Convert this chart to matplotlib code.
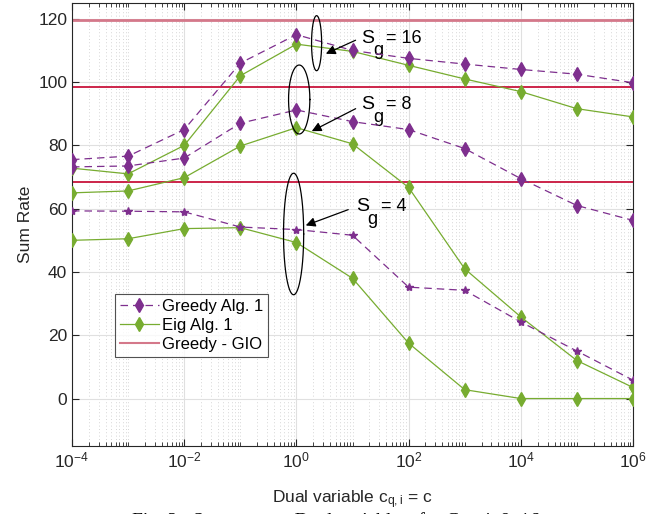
import matplotlib
matplotlib.use("Agg")
import matplotlib.pyplot as plt
import numpy as np
from matplotlib.lines import Line2D
from matplotlib.ticker import LogLocator, FixedLocator, NullFormatter

plt.rcParams["font.family"] = ["Liberation Sans", "DejaVu Sans"]

PURPLE = "#7E2F8E"
GREEN = "#77AC30"
RED = "#C8143C"

c_vals = [1e-4, 1e-3, 1e-2, 1e-1, 1e0, 1e1, 1e2, 1e3, 1e4, 1e5, 1e6]

greedy_s16 = [75.5, 76.6, 85.0, 106.0, 115.0, 110.0, 107.5, 105.7, 104.0, 102.5, 99.8]
eig_s16 = [72.8, 71.0, 80.0, 102.0, 112.0, 109.7, 105.3, 101.0, 97.0, 91.6, 89.0]
greedy_s8 = [73.2, 73.5, 76.0, 87.0, 91.2, 87.5, 85.0, 79.0, 69.5, 61.0, 56.3]
eig_s8 = [65.0, 65.6, 69.8, 79.8, 85.6, 80.5, 66.7, 41.0, 25.8, 12.0, 3.5]
greedy_s4 = [59.3, 59.2, 59.0, 54.2, 53.4, 51.6, 35.2, 34.2, 24.2, 15.0, 5.8]
eig_s4 = [50.0, 50.5, 53.7, 54.0, 49.3, 38.0, 17.5, 2.8, 0.0, 0.0, 0.0]
gio_levels = [119.5, 98.5, 68.3]

# S_g annotations: label, ellipse centre (log10 x, y), half sizes, arrow tail/head, text pos
groups = [
    ("16", 0.36, 112.3, 0.09, 8.7, (1.10, 113.6), (0.48, 108.6), (1.16, 113.9)),
    ("8", 0.05, 94.5, 0.19, 10.9, (1.10, 92.0), (0.23, 84.1), (1.16, 92.8)),
    ("4", -0.05, 52.0, 0.18, 19.2, (0.97, 60.0), (0.12, 54.4), (1.06, 60.7)),
]

fig = plt.figure(figsize=(6.71, 5.14), dpi=100)
ax = fig.add_axes([72 / 671, 1 - 446 / 514, 561 / 671, 443 / 514])

for i, lvl in enumerate(gio_levels):
    if i == 0:
        ax.axhline(lvl, color="#D4788A", lw=2.0, zorder=2)
    else:
        ax.axhline(lvl, color=RED, lw=1.3, zorder=2)

ms = 7
for g in (greedy_s16, greedy_s8):
    ax.plot(c_vals, g, color=PURPLE, ls=(0, (6, 4)), lw=0.9, marker="d",
            ms=ms, mfc=PURPLE, mec=PURPLE, zorder=4)
ax.plot(c_vals, greedy_s4, color=PURPLE, ls=(0, (6, 4)), lw=0.9, marker="*",
        ms=6, mfc=PURPLE, mec=PURPLE, zorder=4)
for e in (eig_s16, eig_s8, eig_s4):
    ax.plot(c_vals, e, color=GREEN, lw=0.9, marker="d", ms=ms,
            mfc=GREEN, mec=GREEN, zorder=3)

t = np.linspace(0, 2 * np.pi, 200)
for lab, cx, cy, a, b, tail, head, txt in groups:
    ax.plot(10 ** (cx + a * np.cos(t)), cy + b * np.sin(t), color="black",
            lw=0.9, zorder=5)
    ax.annotate("", xy=(10 ** head[0], head[1]), xytext=(10 ** tail[0], tail[1]),
                arrowprops=dict(arrowstyle="-|>", color="black", lw=0.9,
                                mutation_scale=14), zorder=6)
    ax.text(10 ** txt[0], txt[1], "S", fontsize=14, va="center", ha="left")
    ax.text(10 ** (txt[0] + 0.21), txt[1] - 4.0, "g", fontsize=13, va="center",
            ha="left")
    ax.text(10 ** (txt[0] + 0.44), txt[1], "= " + lab, fontsize=13, va="center",
            ha="left")

ax.set_xscale("log")
ax.set_xlim(1e-4, 1e6)
ax.set_ylim(-15, 125)
ax.xaxis.set_major_locator(FixedLocator([1e-4, 1e-2, 1e0, 1e2, 1e4, 1e6]))
ax.xaxis.set_minor_locator(LogLocator(base=10, subs=np.arange(1, 10), numticks=50))
ax.xaxis.set_minor_formatter(NullFormatter())
ax.set_xticklabels([r"$\mathregular{10^{-4}}$", r"$\mathregular{10^{-2}}$",
                    r"$\mathregular{10^{0}}$", r"$\mathregular{10^{2}}$",
                    r"$\mathregular{10^{4}}$", r"$\mathregular{10^{6}}$"])
ax.set_yticks([0, 20, 40, 60, 80, 100, 120])
ax.tick_params(which="both", direction="in", top=True, right=True,
               labelsize=12.5, colors="#262626")
ax.tick_params(which="major", length=5)
ax.tick_params(which="minor", length=3)
ax.grid(which="major", color="#e0e0e0", lw=0.8)
ax.grid(which="minor", axis="x", color="#c8c8c8", ls=(0, (1, 3)), lw=0.6)
ax.set_axisbelow(True)
for s in ax.spines.values():
    s.set_color("#262626")
    s.set_linewidth(0.8)

ax.set_ylabel("Sum Rate", fontsize=12.5, color="#262626")
ax.set_xlabel(r"Dual variable c$\mathregular{_{q,i}}$ = c", fontsize=12.5,
              color="#262626", labelpad=13)

handles = [
    Line2D([], [], color=PURPLE, ls=(0, (6, 4)), lw=0.9, marker="d", ms=ms,
           mfc=PURPLE, mec=PURPLE),
    Line2D([], [], color=GREEN, lw=0.9, marker="d", ms=ms, mfc=GREEN, mec=GREEN),
    Line2D([], [], color="#D4788A", lw=1.5),
]
leg = ax.legend(handles, ["Greedy Alg. 1", "Eig Alg. 1", "Greedy - GIO"],
                loc="upper left", bbox_to_anchor=(0.077, 0.344), fontsize=12,
                frameon=True, fancybox=False, edgecolor="#262626",
                handlelength=2.3, handletextpad=0.2, borderpad=0.3,
                labelspacing=0.25, borderaxespad=0)
leg.get_frame().set_linewidth(0.8)

# caption of the source figure, cut by the bottom edge as in the reference
fig.text(0.5, -0.013, "Fig. 2:  Sum rate vs. Dual variable c for G = 4, 8, 16",
         family=["Liberation Serif", "DejaVu Serif"], fontsize=14, ha="center",
         va="center")

fig.savefig("out.png", dpi=100)
